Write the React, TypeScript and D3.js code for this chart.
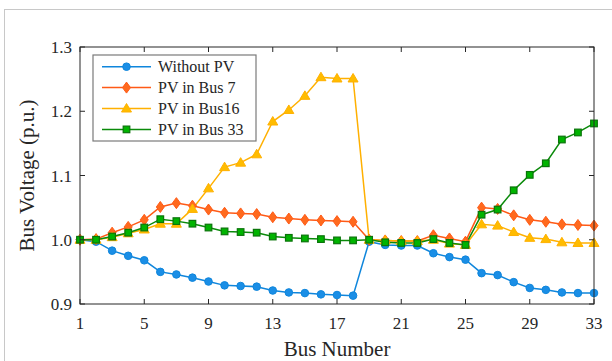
import React from 'react';
import * as d3 from 'd3';

const buses = d3.range(1, 34);

const withoutPV = [1.000, 0.997, 0.983, 0.975, 0.968, 0.950, 0.946, 0.941, 0.935, 0.929, 0.928, 0.927, 0.921, 0.918, 0.917, 0.915, 0.914, 0.913,
  0.997, 0.992, 0.991, 0.991, 0.979, 0.973, 0.969, 0.948, 0.945, 0.934, 0.925, 0.922, 0.918, 0.917, 0.917];
const pvBus7 = [1.000, 1.001, 1.011, 1.020, 1.031, 1.051, 1.057, 1.053, 1.047, 1.042, 1.041, 1.040, 1.035, 1.033, 1.031, 1.030, 1.029, 1.028,
  1.000, 0.999, 0.998, 0.998, 1.007, 1.002, 0.997, 1.050, 1.048, 1.038, 1.031, 1.028, 1.024, 1.023, 1.022];
const pvBus16 = [1.000, 1.000, 1.004, 1.010, 1.016, 1.025, 1.025, 1.048, 1.080, 1.113, 1.120, 1.133, 1.184, 1.202, 1.224, 1.253, 1.251, 1.251,
  1.000, 0.999, 0.998, 0.998, 1.000, 0.994, 0.992, 1.024, 1.022, 1.012, 1.003, 1.001, 0.996, 0.995, 0.995];
const pvBus33 = [1.000, 1.000, 1.005, 1.011, 1.019, 1.032, 1.029, 1.025, 1.019, 1.013, 1.012, 1.011, 1.005, 1.003, 1.002, 1.001, 0.999, 0.999,
  1.000, 0.996, 0.995, 0.995, 1.001, 0.995, 0.992, 1.039, 1.047, 1.077, 1.101, 1.119, 1.156, 1.167, 1.181];

const xTicks = [1, 5, 9, 13, 17, 21, 25, 29, 33];
const yTicks = [0.9, 1.0, 1.1, 1.2, 1.3];

const seriesNames = ['Without PV', 'PV in Bus 7', 'PV in Bus16', 'PV in Bus 33'];

const W = 612;
const H = 361;
const margin = { top: 47, right: 18, bottom: 57, left: 80 };
const FONT = "'Liberation Serif', 'DejaVu Serif', serif";

type Shape = 'circle' | 'diamond' | 'triangle' | 'square';

const series: { name: string; values: number[]; color: string; fill: string; edge: string; shape: Shape }[] = [
  { name: seriesNames[0], values: withoutPV, color: '#0f86dc', fill: '#1a8ee6', edge: '#0f86dc', shape: 'circle' },
  { name: seriesNames[1], values: pvBus7, color: '#ff5a16', fill: '#ff6a1e', edge: '#ff5a16', shape: 'diamond' },
  { name: seriesNames[2], values: pvBus16, color: '#ffb000', fill: '#ffbc00', edge: '#ffb000', shape: 'triangle' },
  { name: seriesNames[3], values: pvBus33, color: '#0a8a0a', fill: '#00b400', edge: '#0a740a', shape: 'square' },
];

function Marker({ shape, x, y, fill, edge }: { shape: Shape; x: number; y: number; fill: string; edge: string }) {
  if (shape === 'circle') return <circle cx={x} cy={y} r={3.8} fill={fill} stroke={edge} strokeWidth={1} />;
  if (shape === 'diamond')
    return <path d={`M${x},${y - 5.5}L${x + 4},${y}L${x},${y + 5.5}L${x - 4},${y}Z`} fill={fill} stroke={edge} strokeWidth={1} />;
  if (shape === 'triangle')
    return <path d={`M${x},${y - 5}L${x + 5},${y + 3.5}L${x - 5},${y + 3.5}Z`} fill={fill} stroke={edge} strokeWidth={1} />;
  return <rect x={x - 3.3} y={y - 3.3} width={6.6} height={6.6} fill={fill} stroke={edge} strokeWidth={1.2} />;
}

export default function App() {
  const innerW = W - margin.left - margin.right;
  const innerH = H - margin.top - margin.bottom;
  const x = d3.scaleLinear().domain([1, 33]).range([margin.left, margin.left + innerW]);
  const y = d3.scaleLinear().domain([0.9, 1.3]).range([margin.top + innerH, margin.top]);
  const line = d3.line<number>().x((_, i) => x(buses[i])).y(d => y(d));

  const left = margin.left, right = margin.left + innerW, top = margin.top, bottom = margin.top + innerH;
  const tick = 5;

  const lg = { x: 93, y: 55, w: 163, h: 86 };

  return (
    <svg width={W} height={H} style={{ position: 'absolute', left: 0, top: 0, background: '#fff', fontFamily: FONT }}>
      {/* figure frame edges */}
      <line x1={4.5} x2={4.5} y1={9} y2={H} stroke="#c8c8c8" strokeWidth={1} />
      <line x1={4.5} x2={W} y1={9.5} y2={9.5} stroke="#c8c8c8" strokeWidth={1} />

      {/* series lines */}
      {series.map(s => (
        <path key={s.name + 'l'} d={line(s.values) || ''} fill="none" stroke={s.color} strokeWidth={1.5} />
      ))}
      {series.map(s => (
        <g key={s.name + 'm'}>
          {s.values.map((v, i) => (
            <Marker key={i} shape={s.shape} x={x(buses[i])} y={y(v)} fill={s.fill} edge={s.edge} />
          ))}
        </g>
      ))}

      {/* axes box and ticks */}
      <rect x={left} y={top} width={innerW} height={innerH} fill="none" stroke="#262626" strokeWidth={1} />
      {xTicks.map(t => (
        <g key={'xt' + t}>
          <line x1={x(t)} x2={x(t)} y1={bottom} y2={bottom - tick} stroke="#262626" />
          <line x1={x(t)} x2={x(t)} y1={top} y2={top + tick} stroke="#262626" />
          <text x={x(t)} y={329} textAnchor="middle" fontSize={17} fill="#262626">{t}</text>
        </g>
      ))}
      {yTicks.map(t => (
        <g key={'yt' + t}>
          <line x1={left} x2={left + tick} y1={y(t)} y2={y(t)} stroke="#262626" />
          <line x1={right} x2={right - tick} y1={y(t)} y2={y(t)} stroke="#262626" />
          <text x={72} y={y(t) + 6} textAnchor="end" fontSize={17} fill="#262626">{t.toFixed(1)}</text>
        </g>
      ))}

      <text x={(left + right) / 2} y={356} textAnchor="middle" fontSize={21} fill="#262626">Bus Number</text>
      <text transform={`translate(34,${(top + bottom) / 2}) rotate(-90)`} textAnchor="middle" fontSize={21} fill="#262626">
        Bus Voltage (p.u.)
      </text>

      {/* legend */}
      <rect x={lg.x} y={lg.y} width={lg.w} height={lg.h} fill="#fff" stroke="#7a7a7a" strokeWidth={1.2} />
      {series.map((s, i) => {
        const ly = 66.7 + i * 20.9;
        return (
          <g key={s.name + 'lg'}>
            <line x1={102} x2={151} y1={ly} y2={ly} stroke={s.color} strokeWidth={1.5} />
            <Marker shape={s.shape} x={126.5} y={ly} fill={s.fill} edge={s.edge} />
            <text x={158} y={ly + 5.5} fontSize={16} fill="#262626">{s.name}</text>
          </g>
        );
      })}
    </svg>
  );
}
